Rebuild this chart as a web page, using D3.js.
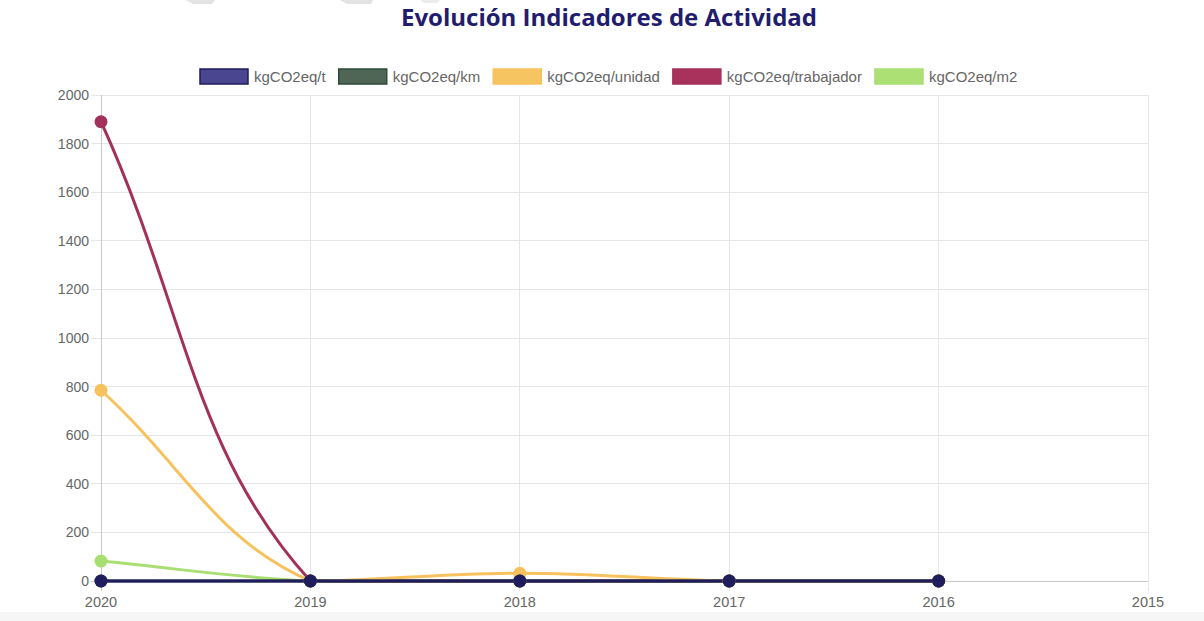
<!DOCTYPE html>
<html><head><meta charset="utf-8">
<script src="https://cdn.jsdelivr.net/npm/d3@7"></script>
<style>body{margin:0;background:#fff;}svg{display:block;}</style>
</head><body>
<svg id="c" width="1204" height="621"></svg>
<script>
const title = "Evolución Indicadores de Actividad";
const labels = ["2020","2019","2018","2017","2016","2015"];
const yTicks = [0,200,400,600,800,1000,1200,1400,1600,1800,2000];
const seriesNames = ["kgCO2eq/t","kgCO2eq/km","kgCO2eq/unidad","kgCO2eq/trabajador","kgCO2eq/m2"];
const valT = [0,0,0,0,0];
const valKm = [0,0,0,0,0];
const valUnidad = [785,0,32,0,0];
const valTrabajador = [1890,0,0,0,0];
const valM2 = [82,0,0,0,0];
const seriesValues = [valT,valKm,valUnidad,valTrabajador,valM2];
const lineColors = ["#1f1d5e","#2e4a3a","#f7c25e","#a3305a","#a9de72"];
const boxFills = ["#4a468f","#4f6656","#f7c462","#a8325b","#ade074"];

const svg = d3.select("#c");
const W=1204,H=621;
const m={left:101,right:1148,top:95,bottom:581};

// background decorations
svg.append("rect").attr("x",0).attr("y",612).attr("width",W).attr("height",9).attr("fill","#f6f6f6");
svg.append("polygon").attr("points","186,0 215,0 212,4 193,4").attr("fill","#e3e3e3");
svg.append("polygon").attr("points","340,0 373,0 371,4 347,4").attr("fill","#e3e3e3");
svg.append("polygon").attr("points","420,0 440,0 437,3 424,3").attr("fill","#ececec");

const x = d3.scalePoint().domain(labels).range([m.left,m.right]);
const y = d3.scaleLinear().domain([0,2000]).range([m.bottom,m.top]);

// grid
const g = svg.append("g");
g.selectAll("line.hy").data(yTicks).join("line")
  .attr("x1",m.left-10).attr("x2",m.right).attr("y1",d=>y(d)).attr("y2",d=>y(d))
  .attr("stroke",d=>d===0?"#c8c8c8":"#e6e6e6").attr("stroke-width",1).attr("shape-rendering","crispEdges");
g.selectAll("line.vx").data(labels).join("line")
  .attr("x1",d=>x(d)).attr("x2",d=>x(d)).attr("y1",m.top).attr("y2",m.bottom+10)
  .attr("stroke",(d,i)=>i===0?"#c8c8c8":"#e6e6e6").attr("stroke-width",1).attr("shape-rendering","crispEdges");

// axis labels
const font = "'Liberation Sans', Arial, sans-serif";
g.selectAll("text.yl").data(yTicks).join("text")
  .attr("x",m.left-12).attr("y",d=>y(d)).attr("dy","0.35em").attr("text-anchor","end")
  .attr("font-family",font).attr("font-size",14).attr("fill","#666").text(d=>d);
g.selectAll("text.xl").data(labels).join("text")
  .attr("x",d=>x(d)).attr("y",m.bottom+26).attr("text-anchor","middle")
  .attr("font-family",font).attr("font-size",14.5).attr("fill","#666").text(d=>d);

// Chart.js style spline curve
function chartjsCurve(context){
  return {
    _pts:null,
    areaStart(){},areaEnd(){},
    lineStart(){this._pts=[];},
    point(px,py){this._pts.push([+px,+py]);},
    lineEnd(){
      const p=this._pts, n=p.length, t=0.4;
      if(!n) return;
      const cps=p.map((cur,i)=>{
        const prev=p[i-1]||cur, next=p[i+1]||cur;
        const d01=Math.hypot(cur[0]-prev[0],cur[1]-prev[1]);
        const d12=Math.hypot(next[0]-cur[0],next[1]-cur[1]);
        let s01=d01/(d01+d12), s12=d12/(d01+d12);
        if(isNaN(s01)) s01=0; if(isNaN(s12)) s12=0;
        const fa=t*s01, fb=t*s12;
        const cl=v=>[Math.max(m.left,Math.min(m.right,v[0])),Math.max(m.top,Math.min(m.bottom,v[1]))];
        return {
          prev:cl([cur[0]-fa*(next[0]-prev[0]),cur[1]-fa*(next[1]-prev[1])]),
          next:cl([cur[0]+fb*(next[0]-prev[0]),cur[1]+fb*(next[1]-prev[1])])
        };
      });
      context.moveTo(p[0][0],p[0][1]);
      for(let i=1;i<n;i++){
        context.bezierCurveTo(cps[i-1].next[0],cps[i-1].next[1],cps[i].prev[0],cps[i].prev[1],p[i][0],p[i][1]);
      }
    }
  };
}

const line = d3.line().x((d,i)=>x(labels[i])).y(d=>y(d)).curve(chartjsCurve);
const order = d3.range(seriesNames.length).reverse();
const sg = svg.append("g");
order.forEach(si=>{
  const vals = seriesValues[si];
  sg.append("path").attr("d",line(vals)).attr("fill","none")
    .attr("stroke",lineColors[si]).attr("stroke-width",3);
});
order.forEach(si=>{
  const vals = seriesValues[si];
  sg.selectAll(null).data(vals).join("circle")
    .attr("cx",(d,i)=>x(labels[i])).attr("cy",d=>y(d)).attr("r",6.5)
    .attr("fill",lineColors[si]);
});

// legend
const legend = svg.append("g");
let lx = 0;
seriesNames.forEach((name,i)=>{
  const it = legend.append("g");
  it.append("rect").attr("x",lx+1).attr("y",69).attr("width",48).attr("height",15)
    .attr("fill",boxFills[i]).attr("stroke",lineColors[i]).attr("stroke-width",1.5);
  const tx = it.append("text").attr("x",lx+55).attr("y",76.5).attr("dy","0.35em")
    .attr("font-family",font).attr("font-size",15).attr("fill","#666").text(name);
  const w = tx.node().getComputedTextLength();
  lx += 55 + w + (i<seriesNames.length-1?12:0);
});
legend.attr("transform",`translate(${Math.round(608.5-lx/2)},0)`);

// title
svg.append("text").attr("x",609).attr("y",26).attr("text-anchor","middle")
  .attr("font-family","'Open Sans', Lato, sans-serif").attr("font-weight","bold")
  .attr("font-size",24).attr("fill","#221c6e").text(title);
</script>
</body></html>
